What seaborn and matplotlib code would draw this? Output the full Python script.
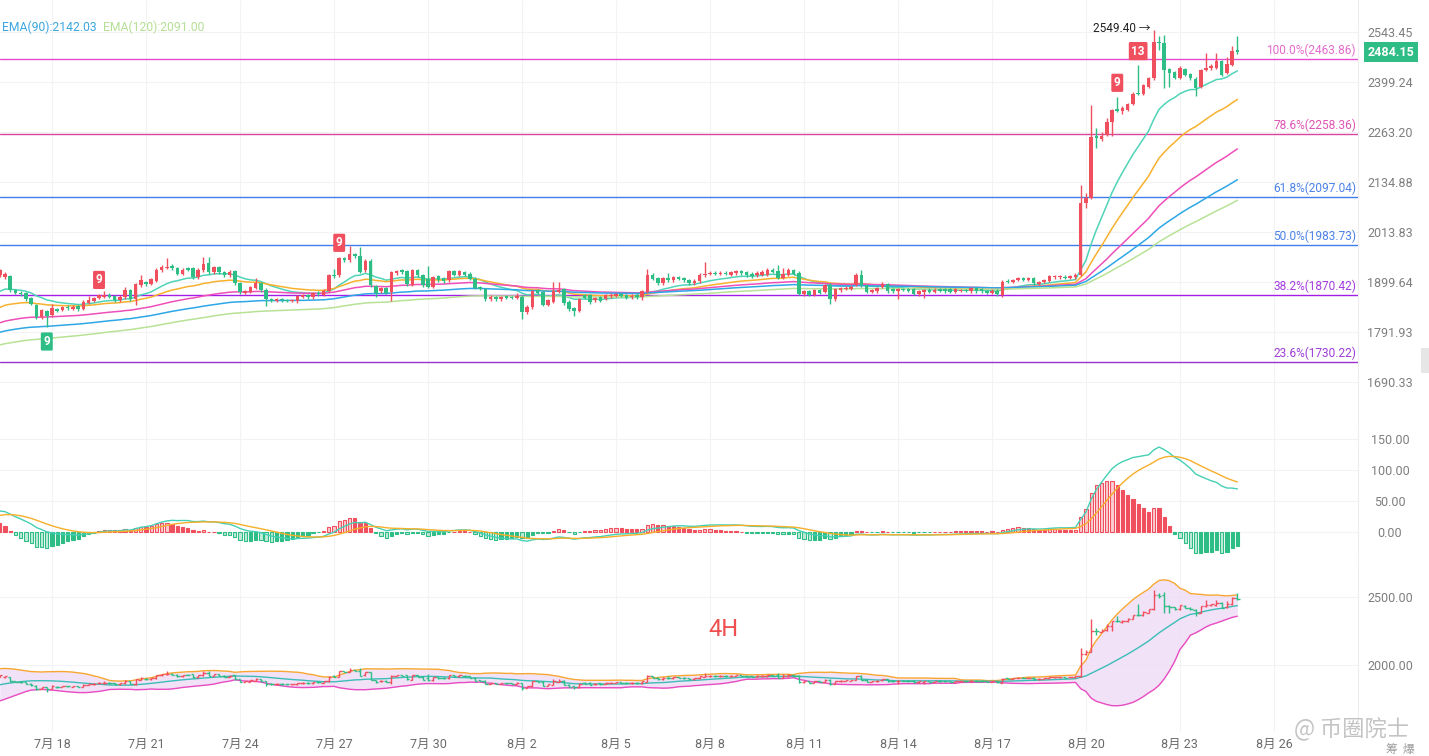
import numpy as np
import pandas as pd
import matplotlib
matplotlib.use("Agg")
import matplotlib.pyplot as plt
from matplotlib.ticker import NullLocator
from matplotlib.patches import Rectangle
import seaborn as sns

# ---------------- data (4H candles, 7/16 08:00 -> 8/24 20:00) ----------------
date_labels = ["7月 18", "7月 21", "7月 24", "7月 27", "7月 30", "8月 2", "8月 5",
               "8月 8", "8月 11", "8月 14", "8月 17", "8月 20", "8月 23", "8月 26"]
date_tick_idx = [10, 28, 46, 64, 82, 100, 118, 136, 154, 172, 190, 208, 226, 244]

opens = [
    1914, 1910, 1912, 1882, 1876, 1875, 1864, 1849, 1823, 1836,
    1827, 1840, 1839, 1845, 1841, 1847, 1840, 1853, 1858, 1865,
    1867, 1871, 1868, 1859, 1866, 1881, 1862, 1892, 1899, 1895,
    1902, 1925, 1931, 1936, 1930, 1918, 1929, 1931, 1910, 1925,
    1941, 1921, 1933, 1921, 1914, 1924, 1896, 1875, 1878, 1886,
    1896, 1882, 1862, 1858, 1862, 1860, 1858, 1857, 1867, 1870,
    1866, 1876, 1871, 1880, 1916, 1914, 1953, 1948, 1962, 1957,
    1925, 1947, 1890, 1879, 1885, 1877, 1919, 1926, 1923, 1893,
    1925, 1914, 1907, 1888, 1912, 1908, 1903, 1923, 1916, 1921,
    1918, 1907, 1888, 1884, 1861, 1866, 1861, 1866, 1866, 1864,
    1867, 1833, 1844, 1881, 1877, 1849, 1856, 1877, 1884, 1856,
    1842, 1836, 1870, 1870, 1859, 1866, 1862, 1868, 1869, 1872,
    1870, 1866, 1871, 1866, 1877, 1916, 1908, 1896, 1908, 1903,
    1910, 1908, 1904, 1896, 1901, 1914, 1917, 1920, 1917, 1920,
    1916, 1919, 1923, 1921, 1918, 1914, 1916, 1916, 1927, 1923,
    1908, 1916, 1925, 1920, 1873, 1879, 1871, 1881, 1877, 1893,
    1861, 1881, 1884, 1884, 1893, 1916, 1892, 1877, 1879, 1888,
    1895, 1884, 1879, 1884, 1884, 1884, 1872, 1878, 1882, 1878,
    1884, 1883, 1883, 1877, 1880, 1881, 1879, 1885, 1884, 1879,
    1876, 1880, 1871, 1902, 1900, 1904, 1908, 1904, 1908, 1895,
    1899, 1902, 1910, 1910, 1911, 1909, 1910, 1916, 2082, 2095,
    2253, 2245, 2255, 2290, 2324, 2318, 2322, 2338, 2368, 2366,
    2386, 2409, 2515, 2512, 2436, 2427, 2411, 2435, 2422, 2408,
    2385, 2433, 2438, 2440, 2458, 2425, 2447, 2490]

closes = [
    1925, 1918, 1882, 1875, 1873, 1862, 1851, 1823, 1838, 1825,
    1842, 1836, 1844, 1842, 1845, 1840, 1856, 1860, 1864, 1870,
    1871, 1867, 1859, 1867, 1881, 1862, 1894, 1903, 1894, 1905,
    1927, 1934, 1934, 1930, 1918, 1927, 1927, 1910, 1927, 1940,
    1921, 1933, 1921, 1914, 1921, 1896, 1877, 1879, 1888, 1896,
    1881, 1861, 1858, 1862, 1859, 1858, 1860, 1868, 1870, 1866,
    1874, 1872, 1880, 1914, 1912, 1953, 1948, 1962, 1957, 1922,
    1947, 1892, 1876, 1886, 1876, 1921, 1923, 1921, 1894, 1925,
    1914, 1892, 1889, 1910, 1903, 1901, 1923, 1916, 1923, 1916,
    1907, 1886, 1884, 1861, 1867, 1861, 1866, 1865, 1864, 1869,
    1834, 1845, 1879, 1875, 1849, 1859, 1879, 1881, 1853, 1840,
    1836, 1862, 1864, 1855, 1864, 1858, 1870, 1871, 1872, 1869,
    1865, 1869, 1866, 1879, 1916, 1907, 1896, 1908, 1903, 1910,
    1907, 1903, 1896, 1902, 1916, 1918, 1920, 1917, 1920, 1917,
    1921, 1923, 1919, 1914, 1912, 1920, 1922, 1927, 1922, 1908,
    1918, 1925, 1918, 1873, 1879, 1871, 1881, 1876, 1892, 1861,
    1883, 1886, 1887, 1888, 1916, 1892, 1877, 1881, 1886, 1895,
    1879, 1879, 1884, 1882, 1880, 1873, 1879, 1881, 1877, 1882,
    1880, 1879, 1877, 1883, 1881, 1880, 1885, 1879, 1879, 1876,
    1880, 1872, 1900, 1900, 1904, 1908, 1904, 1908, 1896, 1899,
    1903, 1912, 1912, 1912, 1908, 1912, 1916, 2082, 2095, 2250,
    2248, 2253, 2290, 2322, 2320, 2327, 2338, 2366, 2366, 2390,
    2409, 2515, 2511, 2433, 2425, 2411, 2440, 2420, 2410, 2382,
    2433, 2440, 2445, 2458, 2420, 2450, 2489, 2484.15]

highs = [
    1929, 1921, 1915, 1884, 1879, 1877, 1866, 1851, 1841, 1838,
    1851, 1843, 1847, 1848, 1848, 1849, 1859, 1869, 1867, 1873,
    1880, 1874, 1871, 1870, 1888, 1884, 1897, 1915, 1902, 1908,
    1930, 1937, 1953, 1939, 1933, 1930, 1932, 1934, 1930, 1956,
    1955, 1936, 1936, 1924, 1925, 1927, 1899, 1882, 1891, 1908,
    1899, 1885, 1865, 1865, 1865, 1863, 1863, 1871, 1873, 1873,
    1877, 1879, 1883, 1917, 1929, 1956, 1956, 1981, 1965, 1978,
    1950, 1950, 1893, 1889, 1888, 1924, 1926, 1929, 1926, 1928,
    1928, 1917, 1936, 1913, 1915, 1911, 1926, 1926, 1926, 1924,
    1921, 1910, 1891, 1887, 1870, 1869, 1869, 1868, 1868, 1875,
    1870, 1848, 1882, 1884, 1880, 1862, 1899, 1899, 1887, 1859,
    1845, 1865, 1873, 1873, 1867, 1869, 1873, 1874, 1875, 1875,
    1873, 1872, 1874, 1882, 1929, 1919, 1911, 1911, 1920, 1913,
    1913, 1911, 1907, 1905, 1919, 1944, 1923, 1923, 1923, 1923,
    1924, 1926, 1926, 1924, 1921, 1923, 1925, 1930, 1930, 1938,
    1931, 1931, 1929, 1923, 1882, 1882, 1884, 1884, 1895, 1896,
    1886, 1889, 1890, 1892, 1919, 1927, 1895, 1884, 1889, 1899,
    1898, 1887, 1887, 1887, 1887, 1887, 1882, 1884, 1885, 1885,
    1887, 1886, 1886, 1886, 1884, 1884, 1888, 1888, 1887, 1882,
    1883, 1883, 1903, 1905, 1907, 1911, 1911, 1911, 1911, 1902,
    1906, 1915, 1915, 1915, 1914, 1915, 1919, 2128, 2108, 2336,
    2274, 2262, 2300, 2325, 2358, 2332, 2342, 2370, 2447, 2394,
    2413, 2549.4, 2531, 2535, 2440, 2430, 2444, 2439, 2425, 2412,
    2437, 2481, 2449, 2481, 2462, 2471, 2502, 2532]

lows = [
    1911, 1906, 1878, 1872, 1869, 1858, 1848, 1818, 1820, 1801,
    1824, 1833, 1836, 1839, 1838, 1835, 1838, 1851, 1855, 1862,
    1864, 1864, 1855, 1856, 1863, 1858, 1850, 1889, 1891, 1892,
    1899, 1922, 1928, 1927, 1914, 1915, 1924, 1907, 1907, 1922,
    1918, 1918, 1918, 1911, 1911, 1893, 1873, 1872, 1875, 1883,
    1878, 1846, 1855, 1855, 1856, 1855, 1855, 1854, 1864, 1863,
    1863, 1869, 1868, 1877, 1909, 1911, 1945, 1945, 1954, 1919,
    1922, 1889, 1866, 1876, 1873, 1857, 1916, 1918, 1891, 1890,
    1911, 1889, 1886, 1885, 1900, 1898, 1900, 1913, 1913, 1913,
    1904, 1883, 1881, 1858, 1858, 1858, 1858, 1862, 1861, 1861,
    1819, 1830, 1841, 1872, 1846, 1846, 1853, 1874, 1850, 1837,
    1826, 1833, 1861, 1852, 1856, 1855, 1859, 1865, 1866, 1866,
    1862, 1863, 1863, 1860, 1874, 1904, 1893, 1893, 1900, 1900,
    1904, 1900, 1893, 1893, 1898, 1911, 1914, 1914, 1914, 1914,
    1913, 1916, 1916, 1911, 1909, 1911, 1913, 1913, 1919, 1905,
    1905, 1913, 1915, 1870, 1868, 1868, 1868, 1873, 1874, 1852,
    1858, 1878, 1881, 1881, 1890, 1889, 1874, 1874, 1876, 1885,
    1876, 1876, 1862, 1879, 1877, 1870, 1869, 1864, 1874, 1875,
    1877, 1876, 1874, 1874, 1877, 1877, 1876, 1876, 1876, 1873,
    1873, 1869, 1866, 1897, 1897, 1901, 1901, 1901, 1893, 1892,
    1896, 1899, 1907, 1907, 1905, 1906, 1907, 1913, 2070, 2092,
    2221, 2240, 2252, 2253, 2317, 2312, 2319, 2335, 2362, 2362,
    2383, 2405, 2490, 2382, 2385, 2407, 2407, 2416, 2406, 2360,
    2381, 2430, 2434, 2436, 2416, 2421, 2443, 2478]

# closes before the visible window (used only to warm up the Bollinger band)
pre_closes = [1760, 1768, 1775, 1780, 1790, 1800, 1812, 1825, 1840, 1856,
              1870, 1885, 1898, 1905, 1915, 1910, 1920, 1930, 1920]

ema_periods = [15, 30, 60, 90, 120]
ema_seeds = [1872, 1838, 1807, 1788, 1762]
macd_seed_fast, macd_seed_slow, macd_seed_dea = 1895, 1861, 25

fib_pcts = [100.0, 78.6, 61.8, 50.0, 38.2, 23.6]
fib_values = [2463.86, 2258.36, 2097.04, 1983.73, 1870.42, 1730.22]

main_ticks = [2543.45, 2399.24, 2263.20, 2134.88, 2013.83, 1899.64, 1791.93, 1690.33]
macd_ticks = [150.0, 100.0, 50.0, 0.0]
boll_ticks = [2500.0, 2000.0]

td_marks = [(9, "9", "below"), (19, "9", "above"), (65, "9", "above"),
            (214, "9", "above"), (218, "13", "above")]
legend_texts = ["EMA(90):2142.03", "EMA(120):2091.00"]
last_price = 2484.15

# ---------------- styling ----------------
RED = "#F0505E"
GREEN = "#2EBD85"
EMA_COLORS = ["#4FD4B8", "#F7B12E", "#EE4FB9", "#2EA7E6", "#B8E296"]
FIB_LINE = ["#E84ACD", "#D9449F", "#3D7EEB", "#3D7EEB", "#A41CE8", "#9A30D2"]
FIB_TEXT = ["#E46BCB", "#DE55B2", "#4C82E8", "#4C82E8", "#A63DDE", "#9E3CD6"]
GRID = "#F3F3F3"
TICK = "#7E7E7E"

sns.set_theme(style="white")
plt.rcParams["font.family"] = ["Roboto", "Noto Sans CJK SC", "DejaVu Sans"]

n = len(closes)
for arr in (opens, highs, lows):
    assert len(arr) == n
idx = np.arange(n)
o = np.array(opens, float); c = np.array(closes, float)
h = np.array(highs, float); l = np.array(lows, float)
up = c >= o
col = np.where(up, RED, GREEN)


def ema(values, period, seed):
    a = 2.0 / (period + 1)
    out, prev = [], seed
    for v in values:
        prev = prev + a * (v - prev)
        out.append(prev)
    return np.array(out)


W, H = 1429, 756
fig = plt.figure(figsize=(W / 100, H / 100), dpi=100)
pw = 1358 / W
ax_main = fig.add_axes([0, 1 - 428 / H, pw, 428 / H])
ax_macd = fig.add_axes([0, 1 - 559 / H, pw, 131 / H], sharex=ax_main)
ax_boll = fig.add_axes([0, 1 - 732 / H, pw, 173 / H], sharex=ax_main)

XMIN, XMAX = 0.04, 260.1

for ax in (ax_main, ax_macd, ax_boll):
    for s in ("top", "left", "bottom"):
        ax.spines[s].set_visible(False)
    ax.spines["right"].set_color("#EDEDED")
    ax.spines["right"].set_linewidth(0.8)
    ax.yaxis.tick_right()
    ax.tick_params(axis="y", length=0, pad=23, labelsize=9, labelcolor=TICK)
    ax.tick_params(axis="x", length=0)
    ax.set_xticks(date_tick_idx)
    ax.grid(True, color=GRID, linewidth=0.8)
    ax.set_axisbelow(True)
    ax.set_facecolor("white")

# ---------------- main panel ----------------
ax = ax_main
ax.set_yscale("log")
ax.set_xlim(XMIN, XMAX)
ax.set_ylim(1601.5, 2640.3)

for v, lc in zip(fib_values, FIB_LINE):
    ax.axhline(v, color=lc, linewidth=1.0, zorder=2)

for p, s, ecol in zip(ema_periods, ema_seeds, EMA_COLORS):
    sns.lineplot(x=idx, y=ema(c, p, s), ax=ax, color=ecol, linewidth=1.1,
                 errorbar=None, zorder=3)

ax.vlines(idx, l, h, colors=col, linewidth=1.0, zorder=4)
lo = np.minimum(o, c)
hi = np.maximum(o, c)
hgt = np.maximum(hi - lo, 2.5)
ax.bar(idx, hgt, bottom=lo, width=0.68, color=col, linewidth=0, zorder=5)

for pct, v, tc in zip(fib_pcts, fib_values, FIB_TEXT):
    ax.annotate(f"{pct:.1f}%({v:.2f})", xy=(0.9985, v), xycoords=ax.get_yaxis_transform(),
                xytext=(0, 2), textcoords="offset pixels", ha="right", va="bottom",
                fontsize=8.6, color=tc, zorder=6)

for i, txt, side in td_marks:
    if side == "above":
        y, off, fc = h[i], 14, RED
    else:
        y, off, fc = l[i], -14, GREEN
    ax.annotate(txt, xy=(i, y), xytext=(0, off), textcoords="offset pixels",
                ha="center", va="center", color="white", fontsize=8.5, fontweight="bold",
                bbox=dict(boxstyle="round,pad=0.22,rounding_size=0.12", fc=fc, ec="none"),
                zorder=7)

imax = int(np.argmax(h))
ax.annotate(f"{h[imax]:.2f} →", xy=(imax, h[imax]), xytext=(-3, 1), textcoords="offset pixels",
            ha="right", va="center", fontsize=8.5, color="#222222", zorder=7)

ax.annotate(f"{last_price:.2f}", xy=(1.0, last_price), xycoords=ax.get_yaxis_transform(),
            xytext=(33, 0), textcoords="offset pixels", ha="center", va="center",
            color="white", fontsize=9, fontweight="bold", annotation_clip=False,
            bbox=dict(boxstyle="square,pad=0.3", fc=GREEN, ec="none"), zorder=8)

ax.yaxis.set_minor_locator(NullLocator())
ax.set_yticks(main_ticks)
ax.set_yticklabels([f"{t:.2f}" for t in main_ticks])
ax.tick_params(axis="x", labelbottom=False)

# ---------------- MACD panel ----------------
ax = ax_macd
dif = ema(c, 12, macd_seed_fast) - ema(c, 26, macd_seed_slow)
dea = ema(dif, 9, macd_seed_dea)
hist = 2 * (dif - dea)
prev = np.concatenate([[hist[0]], hist[:-1]])
grow = np.abs(hist) > np.abs(prev)
mcol = np.where(hist >= 0, RED, GREEN)
face = [(*matplotlib.colors.to_rgb(mc), 0.28) if g else mc for mc, g in zip(mcol, grow)]
ax.bar(idx, hist, width=0.62, color=face, edgecolor=mcol, linewidth=0.8, zorder=3)
sns.lineplot(x=idx, y=dif, ax=ax, color="#45CFB4", linewidth=1.0, errorbar=None, zorder=4)
sns.lineplot(x=idx, y=dea, ax=ax, color="#F7AE2A", linewidth=1.0, errorbar=None, zorder=4)
ax.set_ylim(-43.5, 167.7)
ax.set_yticks(macd_ticks)
ax.set_yticklabels([f"{t:.2f}" for t in macd_ticks])
ax.tick_params(axis="x", labelbottom=False)

# ---------------- Bollinger panel ----------------
ax = ax_boll
allc = pd.Series(list(pre_closes) + list(closes), dtype=float)
mid = allc.rolling(20).mean().to_numpy()[-n:]
sd = allc.rolling(20).std(ddof=0).to_numpy()[-n:]
upper, lower = mid + 2 * sd, mid - 2 * sd
ax.fill_between(idx, lower, upper, color="#EEDBF7", alpha=0.8, linewidth=0, zorder=2)
sns.lineplot(x=idx, y=upper, ax=ax, color="#F7A631", linewidth=1.0, errorbar=None, zorder=3)
sns.lineplot(x=idx, y=mid, ax=ax, color="#3CBDB8", linewidth=1.0, errorbar=None, zorder=3)
sns.lineplot(x=idx, y=lower, ax=ax, color="#E84CC2", linewidth=1.0, errorbar=None, zorder=3)
ax.vlines(idx, l, h, colors=col, linewidth=1.0, zorder=4)
ax.hlines(o, idx - 0.45, idx, colors=col, linewidth=1.0, zorder=4)
ax.hlines(c, idx, idx + 0.45, colors=col, linewidth=1.0, zorder=4)
ax.set_ylim(1507.4, 2779.4)
ax.set_yticks(boll_ticks)
ax.set_yticklabels([f"{t:.2f}" for t in boll_ticks])
ax.set_xticklabels(date_labels)
ax.tick_params(axis="x", labelsize=9, labelcolor="#6A6A6A", pad=4)
ax.text(0.533, 0.59, "4H", transform=ax.transAxes, color="#EF4F4F", fontsize=17,
        ha="center", va="center")

for ax in (ax_main, ax_macd, ax_boll):
    ax.set_xlim(XMIN, XMAX)
    ax.set_xlabel("")
    ax.set_ylabel("")
    for lbl in ax.get_yticklabels():
        lbl.set_horizontalalignment("center")

# ---------------- figure-level texts ----------------
fig.text(2 / W, 1 - 27 / H, legend_texts[0], color="#3BA6E0", fontsize=8.7, va="center")
fig.text(103 / W, 1 - 27 / H, legend_texts[1], color="#B5DF95", fontsize=8.7, va="center")
fig.text(1294 / W, 1 - 729 / H, "@ 币圈院士", color="#BDBDBD", fontsize=16,
         ha="left", va="center", family=["Noto Sans CJK SC", "DejaVu Sans"], alpha=0.9)
fig.text(1386 / W, 1 - 749 / H, "筹  爆", color="#9C9C9C", fontsize=8.5,
         ha="left", va="center", family=["Noto Sans CJK SC", "DejaVu Sans"])
fig.patches.append(Rectangle((1421 / W, 1 - 373 / H), 8 / W, 25 / H,
                             transform=fig.transFigure, fc="#E6E6E6", ec="none"))

fig.savefig("out.png", dpi=100)
